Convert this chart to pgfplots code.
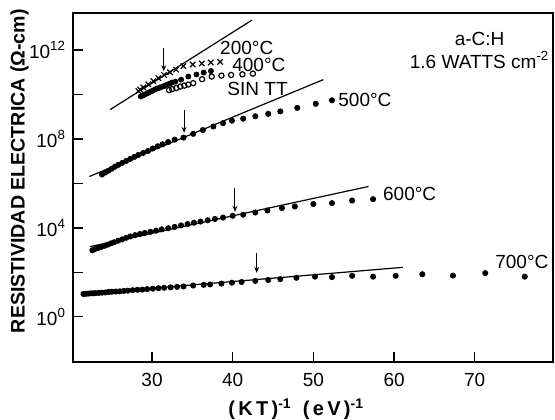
\documentclass[border=0pt]{standalone}
\usepackage{fontspec}
\setmainfont{Liberation Sans}
\usepackage{pgfplots}
\pgfplotsset{compat=1.18}
\usetikzlibrary{arrows.meta}

% y values are log10 of the resistivity (Ohm-cm)
\begin{document}
\begin{tikzpicture}
\begin{axis}[
    name=ax,
    scale only axis,
    width=240pt, height=174.5pt,
    xmin=20.2, xmax=79.7,
    ymin=-2.04, ymax=13.67,
    axis line style={line width=0.9pt},
    tick style={line width=0.7pt, black},
    tick align=inside,
    major tick length=5pt,
    xtick={30,40,50,60,70},
    xticklabels={30,40,50,60,70},
    ytick={0,2,4,6,8,10,12},
    yticklabels={10\textsuperscript{0},,10\textsuperscript{4},,10\textsuperscript{8},,10\textsuperscript{12}},
    xtick pos=bottom, ytick pos=left,
    ticklabel style={font=\fontsize{9.5}{10}\selectfont},
    xticklabel style={yshift=-2pt},
    clip=false,
]

% fitted lines
\addplot[black, line width=0.6pt] coordinates {(24.80,9.32) (42.39,13.35)};
\addplot[black, line width=0.6pt] coordinates {(22.23,6.31) (51.23,10.67)};
\addplot[black, line width=0.6pt] coordinates {(22.30,3.15) (56.84,5.86)};
\addplot[black, line width=0.6pt] coordinates {(21.45,1.02) (61.10,2.22)};

% 200 C
\addplot[only marks, mark=x, mark size=1.9pt, black, line width=0.6pt] coordinates {
(28.30,10.15) (28.51,10.22) (28.92,10.32) (29.54,10.46) (30.16,10.60)
(30.78,10.74) (31.49,10.88) (32.23,11.00) (32.97,11.12) (33.88,11.28)
(35.04,11.35) (36.16,11.40) (37.27,11.44) (38.43,11.47)
};
% 400 C
\addplot[only marks, mark=*, mark size=1.25pt, black] coordinates {
(28.6,9.91) (28.9,9.96) (29.1,10.00) (29.4,10.05) (29.6,10.09) (29.9,10.14)
(30.1,10.18) (30.4,10.23) (30.6,10.27) (30.9,10.30) (31.1,10.33) (31.4,10.37)
(31.6,10.40) (31.9,10.45) (32.2,10.49) (32.5,10.54) (32.9,10.58) (33.6,10.67)
(34.5,10.81) (35.5,10.90) (36.4,10.99) (37.3,11.06)
};
% sin tratamiento termico
\addplot[only marks, mark=o, mark size=1.3pt, black, line width=0.6pt] coordinates {
(32.1,10.20) (32.5,10.24) (33.0,10.29) (33.5,10.36) (34.0,10.40) (34.5,10.45)
(35.1,10.51) (36.2,10.69) (37.4,10.81) (38.6,10.85) (39.8,10.88) (41.2,10.91)
(42.5,10.94)
};
% 500 C
\addplot[only marks, mark=*, mark size=1.3pt, black] coordinates {
(23.8,6.40) (24.2,6.49) (24.6,6.57) (25.0,6.66) (25.4,6.75) (25.8,6.83)
(26.3,6.92) (26.8,7.01) (27.3,7.10) (27.8,7.19) (28.3,7.28) (28.9,7.37)
(29.5,7.46) (30.1,7.57) (30.7,7.67) (31.3,7.76) (32.0,7.86) (32.8,7.97)
(33.9,8.06) (35.1,8.23) (36.3,8.40) (37.6,8.56) (38.8,8.71) (39.9,8.82)
(41.3,8.91) (42.8,9.02) (44.4,9.13) (45.9,9.24) (48.0,9.40) (50.3,9.58)
(52.3,9.74)
};
% 600 C
\addplot[only marks, mark=*, mark size=1.3pt, black] coordinates {
(22.6,2.99) (22.9,3.04) (23.3,3.09) (23.7,3.14) (24.1,3.19) (24.5,3.24)
(24.9,3.30) (25.3,3.35) (25.8,3.42) (26.3,3.48) (26.8,3.55) (27.3,3.61)
(27.9,3.67) (28.5,3.72) (29.1,3.77) (29.8,3.82) (30.5,3.87) (31.2,3.93)
(32.0,3.98) (32.8,4.04) (33.6,4.11) (34.4,4.17) (35.2,4.23) (36.0,4.28)
(36.9,4.34) (37.8,4.40) (38.8,4.46) (40.0,4.54) (41.3,4.59) (42.8,4.69)
(44.3,4.78) (46.1,4.89) (47.7,4.96) (50.0,5.07) (52.3,5.11) (54.8,5.23)
(57.4,5.29)
};
% 700 C
\addplot[only marks, mark=*, mark size=1.3pt, black] coordinates {
(21.5,1.02) (21.8,1.03) (22.1,1.04) (22.4,1.05) (22.7,1.05) (23.0,1.06)
(23.4,1.07) (23.8,1.08) (24.2,1.09) (24.6,1.11) (25.0,1.12) (25.5,1.13)
(26.0,1.14) (26.5,1.16) (27.0,1.17) (27.6,1.19) (28.2,1.21) (28.8,1.22)
(29.4,1.24) (30.1,1.26) (30.8,1.28) (31.5,1.30) (32.3,1.32) (33.1,1.34)
(33.9,1.36) (35.1,1.40) (36.4,1.43) (37.2,1.45) (38.6,1.49) (39.9,1.53)
(41.1,1.56) (42.8,1.61) (44.4,1.65) (45.9,1.69) (47.9,1.75) (50.2,1.80)
(52.3,1.78) (54.8,1.84) (57.4,1.80) (60.2,1.84) (63.5,1.91) (67.3,1.85)
(71.3,1.96) (76.2,1.80)
};

% arrows
\draw[line width=0.5pt, -{Stealth[length=3pt,width=2.4pt]}] (axis cs:31.45,12.11) -- (axis cs:31.45,11.05);
\draw[line width=0.5pt, -{Stealth[length=3pt,width=2.4pt]}] (axis cs:33.97,9.32) -- (axis cs:33.97,8.27);
\draw[line width=0.5pt, -{Stealth[length=3pt,width=2.4pt]}] (axis cs:40.28,5.80) -- (axis cs:40.28,4.72);
\draw[line width=0.5pt, -{Stealth[length=3pt,width=2.4pt]}] (axis cs:42.97,2.87) -- (axis cs:42.97,1.97);

% labels
\begin{scope}[every node/.style={font=\fontsize{9.5}{10}\selectfont, inner sep=0pt}]
\node[anchor=west] at (axis cs:38.4,12.11) {200°C};
\node[anchor=west] at (axis cs:39.9,11.35) {400°C};
\node[anchor=west] at (axis cs:39.3,10.27) {SIN TT};
\node[anchor=west] at (axis cs:53.05,9.77) {500°C};
\node[anchor=west] at (axis cs:58.6,5.52) {600°C};
\node[anchor=west] at (axis cs:72.5,2.47) {700°C};
\node at (axis cs:70.6,12.48) {a-C:H};
\node at (axis cs:70.6,11.57) {1.6 WATTS cm\textsuperscript{-2}};
\end{scope}

\node[xshift=-26.75pt, rotate=90, font=\bfseries\fontsize{9.8}{11}\selectfont, inner sep=0pt]
    at (rel axis cs:0,0.547) {RESISTIVIDAD ELECTRICA (Ω-cm)};
\node[yshift=-23.8pt, font=\bfseries\fontsize{10}{12}\selectfont, inner sep=0pt]
    at (rel axis cs:0.465,0) {(\,K\,T\,)\textsuperscript{-1} \ (\,e\,V\,)\textsuperscript{-1}};
\end{axis}
\pgfresetboundingbox
\path[use as bounding box] ([shift={(-36.5pt,-29pt)}]ax.south west) rectangle ([shift={(1pt,6.5pt)}]ax.north east);
\end{tikzpicture}
\end{document}
